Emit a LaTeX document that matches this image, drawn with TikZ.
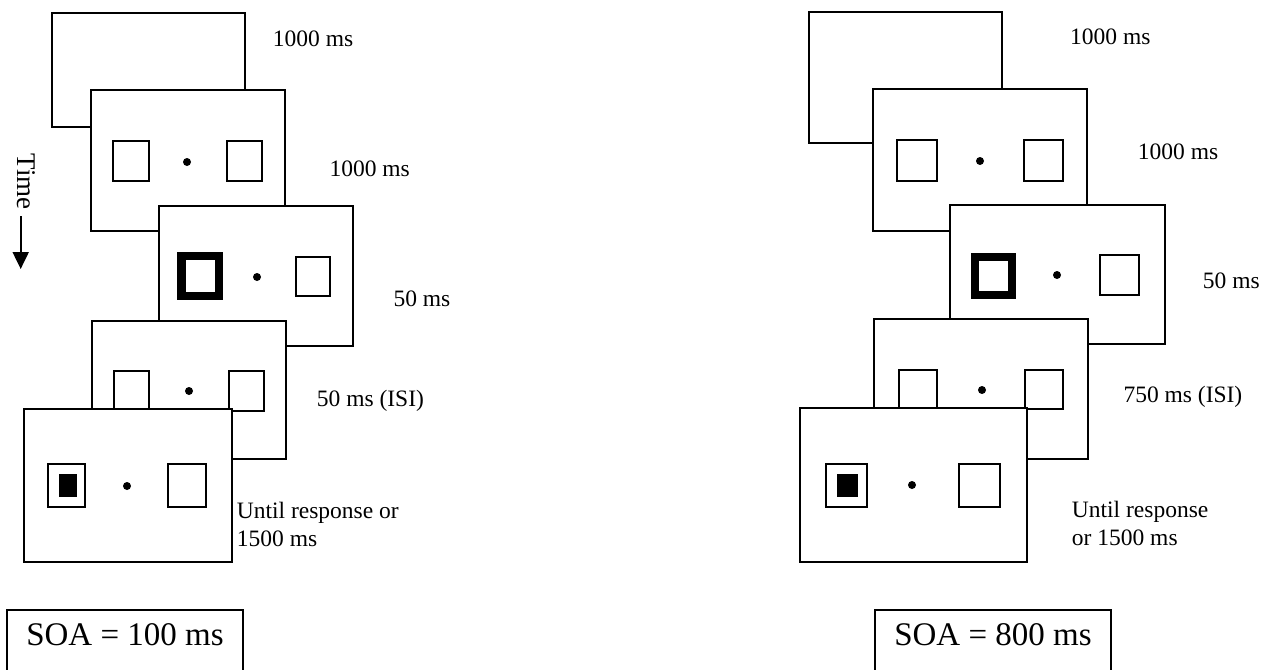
\documentclass[tikz,border=0pt]{standalone}
\usepackage{fontspec}
\setmainfont{Liberation Serif}
\usetikzlibrary{arrows.meta}
\begin{document}
\begin{tikzpicture}[x=1pt,y=-1pt,
  frame/.style={draw=black, fill=white, line width=1.8pt},
  sqbox/.style={draw=black, line width=1.6pt},
  cue/.style={draw=black, line width=8.5pt},
  target/.style={fill=black},
  fixdot/.style={fill=black},
  lbl/.style={inner sep=0pt, anchor=base west, align=left, font=\fontsize{23.5}{27.7}\selectfont},
  soatext/.style={inner sep=0pt, anchor=base, font=\fontsize{33}{38}\selectfont},
  soabox/.style={draw=black, line width=1.6pt}]
\useasboundingbox (0,0) rectangle (1273,669);
\clip (0,0) rectangle (1273,669);
\fill[white] (0,0) rectangle (1273,669);

% ---------- left panel ----------
\draw[frame] (52,13) rectangle (245,127);
\draw[frame] (91,90) rectangle (285,231);
\draw[sqbox] (113,141) rectangle (149,181);
\fill[fixdot] (187,162) circle (4);
\draw[sqbox] (227,141) rectangle (262,181);
\draw[frame] (159,206) rectangle (353,346);
\draw[cue] (181.5,256) rectangle (219,296);
\fill[fixdot] (257,277) circle (4);
\draw[sqbox] (296,257) rectangle (330,296);
\draw[frame] (92,321) rectangle (286,459);
\draw[sqbox] (114,371) rectangle (149,411);
\fill[fixdot] (189,391) circle (4);
\draw[sqbox] (229,371) rectangle (264,411);
\draw[frame] (24,409) rectangle (232,562);
\draw[sqbox] (48,464) rectangle (85,507);
\fill[target] (58.5,474) rectangle (76.5,497);
\fill[fixdot] (127,486) circle (4);
\draw[sqbox] (168,464) rectangle (206,507);

\node[lbl] (l1) at (272.7,46.5) {1000 ms};
\node[lbl] (l2) at (329.3,176.3) {1000 ms};
\node[lbl] (l3) at (393.3,306.5) {50 ms};
\node[lbl] (l4) at (316.7,406.7) {50 ms (ISI)};
\node[lbl] (l5) at (236.7,546) {Until response or\\1500 ms};

\node[font=\fontsize{27}{30}\selectfont, rotate=-90, anchor=base west, inner sep=0pt] (time) at (17,153.3) {Time};
\coordinate (tA) at (20.7,216);
\coordinate (tB) at (20.7,269);
\draw[line width=2pt, -{Triangle[width=16pt,length=17pt]}] (tA) -- (tB);

\draw[soabox] (7,700) -- (7,610) -- (243,610) -- (243,700);
\node[soatext] (soaL) at (125,645) {SOA = 100 ms};

% ---------- right panel ----------
\draw[frame] (809,12) rectangle (1002,143);
\draw[frame] (873,89) rectangle (1087,231);
\draw[sqbox] (897,140) rectangle (937,181);
\fill[fixdot] (980,161) circle (4);
\draw[sqbox] (1024,140) rectangle (1063,181);
\draw[frame] (950,205) rectangle (1165,344);
\draw[cue] (975,257) rectangle (1012,295);
\fill[fixdot] (1057,275) circle (4);
\draw[sqbox] (1100,255) rectangle (1139,295);
\draw[frame] (874,319) rectangle (1088,459);
\draw[sqbox] (899,370) rectangle (937,410);
\fill[fixdot] (982,390) circle (4);
\draw[sqbox] (1025,370) rectangle (1063,409);
\draw[frame] (800,408) rectangle (1027,562);
\draw[sqbox] (826,464) rectangle (867,507);
\fill[target] (837,474) rectangle (858,497);
\fill[fixdot] (912,485) circle (4);
\draw[sqbox] (959,464) rectangle (1000,507);

\node[lbl] (r1) at (1070,45) {1000 ms};
\node[lbl] (r2) at (1137.7,159) {1000 ms};
\node[lbl] (r3) at (1202.7,288.3) {50 ms};
\node[lbl] (r4) at (1123.3,402.3) {750 ms (ISI)};
\node[lbl] (r5) at (1071.7,545) {Until response\\or 1500 ms};

\draw[soabox] (875,700) -- (875,610) -- (1111,610) -- (1111,700);
\node[soatext] (soaR) at (993,645) {SOA = 800 ms};
\end{tikzpicture}
\end{document}
